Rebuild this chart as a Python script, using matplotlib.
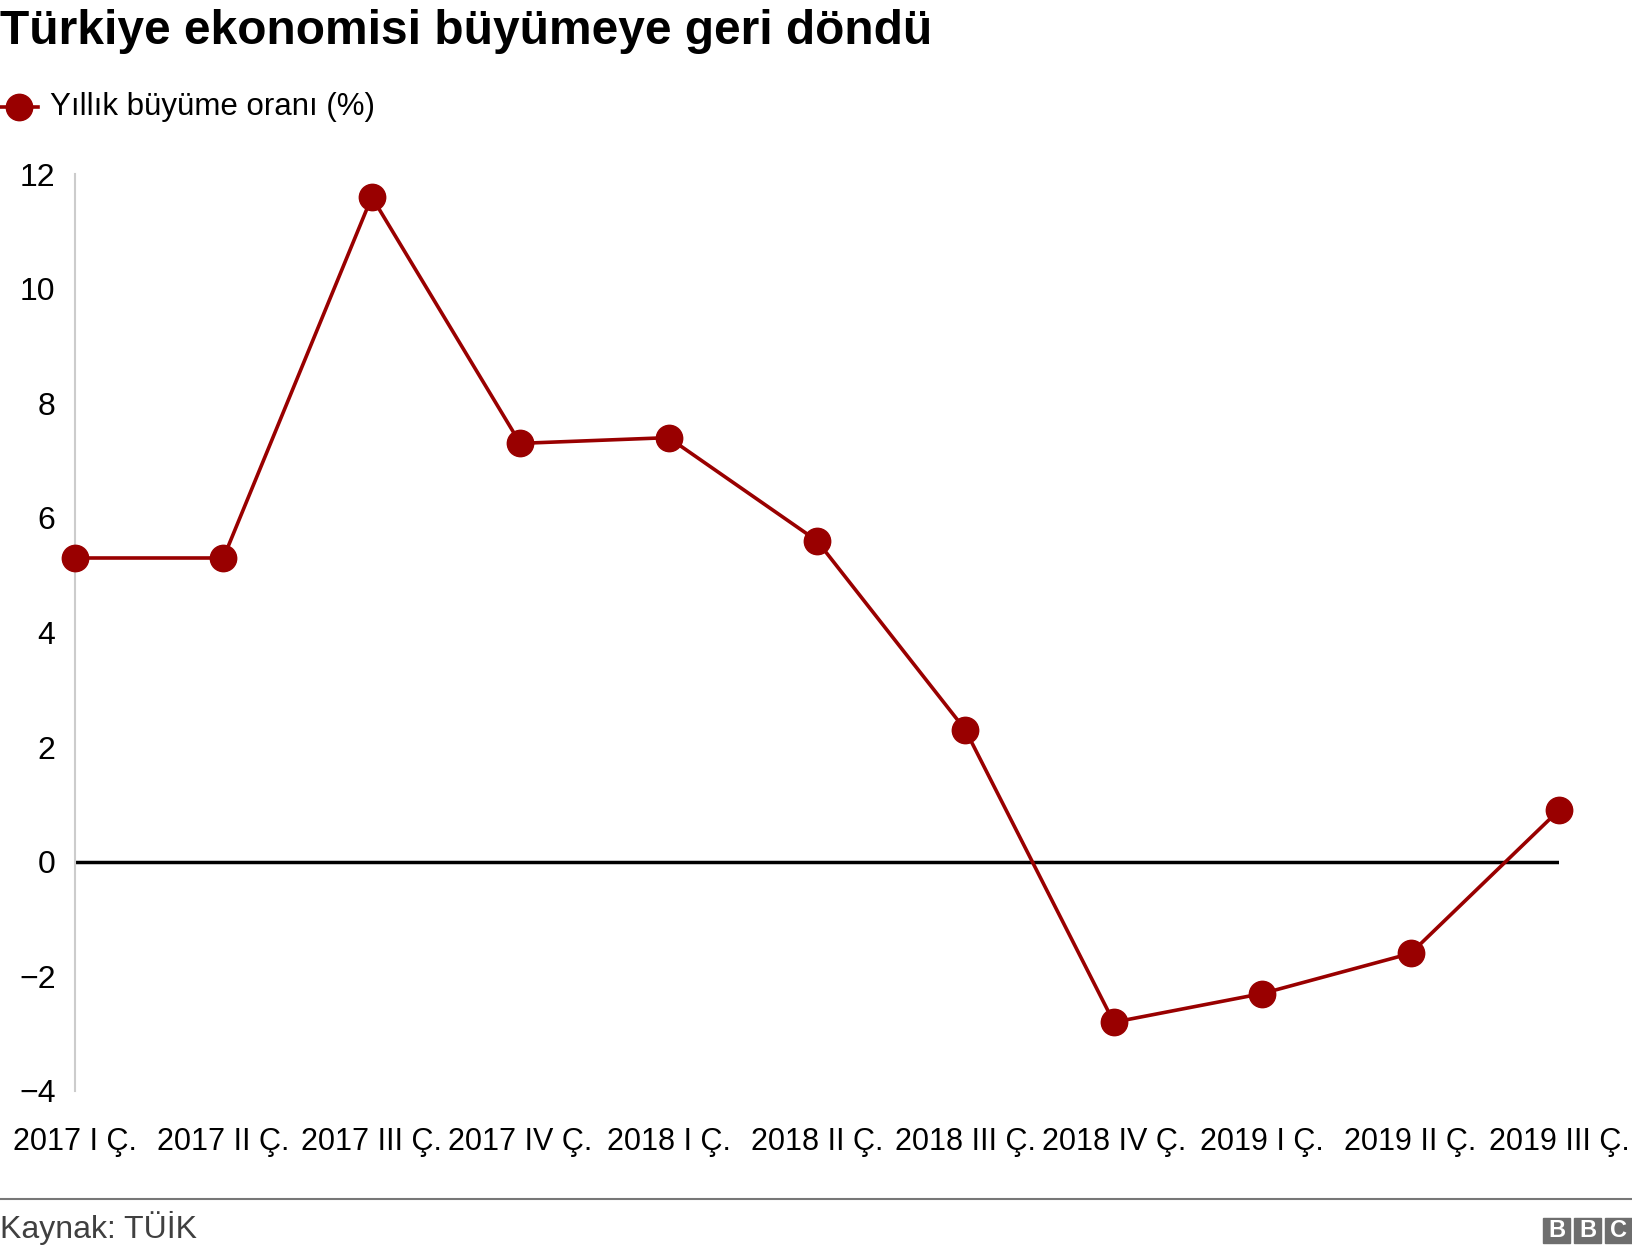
import matplotlib
matplotlib.use("Agg")
import matplotlib.pyplot as plt
from matplotlib.patches import Rectangle
from matplotlib.lines import Line2D

plt.rcParams['font.family'] = ['Liberation Sans', 'DejaVu Sans']

quarters = ['2017 I Ç.', '2017 II Ç.', '2017 III Ç.', '2017 IV Ç.',
            '2018 I Ç.', '2018 II Ç.', '2018 III Ç.', '2018 IV Ç.',
            '2019 I Ç.', '2019 II Ç.', '2019 III Ç.']
growth = [5.3, 5.3, 11.6, 7.3, 7.4, 5.6, 2.3, -2.8, -2.3, -1.6, 0.9]
y_ticks = [-4, -2, 0, 2, 4, 6, 8, 10, 12]

RED = '#990000'


def plot(ax):
    x = list(range(len(growth)))
    ax.axhline(0, color='black', lw=2.5, zorder=2)
    ax.plot(x, growth, color=RED, lw=2.6, marker='o', markersize=19,
            clip_on=False, zorder=3)

    ax.set_xlim(0, len(growth) - 1)
    ax.set_ylim(-4, 12)
    ax.set_yticks(y_ticks)
    ax.set_yticklabels([str(v).replace('-', '\u2212') for v in y_ticks])
    ax.set_xticks(x)
    ax.set_xticklabels(quarters)

    for side in ['top', 'right', 'bottom']:
        ax.spines[side].set_visible(False)
    ax.spines['left'].set_color('#cccccc')
    ax.spines['left'].set_linewidth(1.5)
    ax.tick_params(axis='y', length=0, pad=14, labelsize=23)
    ax.tick_params(axis='x', length=0, pad=26, labelsize=22)


def main():
    fig = plt.figure(figsize=(16.32, 12.54), dpi=100)
    ax = fig.add_axes([75 / 1632, 1 - 1091 / 1254, (1559 - 75) / 1632, (1091 - 174) / 1254])
    plot(ax)

    fig.text(0, 1 - 31 / 1254, 'Türkiye ekonomisi büyümeye geri döndü',
             fontsize=34.5, fontweight='bold', va='center', ha='left')

    # legend
    ly = 1 - 107 / 1254
    fig.add_artist(Line2D([0, 38 / 1632], [ly, ly], color=RED, lw=2.6,
                          transform=fig.transFigure))
    fig.add_artist(Line2D([19 / 1632], [ly], color=RED, marker='o', markersize=19,
                          transform=fig.transFigure))
    fig.text(50 / 1632, ly, 'Yıllık büyüme oranı (%)', fontsize=22.5,
             va='center', ha='left')

    # footer
    fig.add_artist(Line2D([0, 1], [1 - 1199 / 1254] * 2, color='#777777', lw=1.5,
                          transform=fig.transFigure))
    fig.text(0, 1 - 1228 / 1254, 'Kaynak: TÜİK', fontsize=23, color='#404040',
             va='center', ha='left')

    bw, bh, gap = 27 / 1632, 25 / 1254, 4 / 1632
    x0 = 1 - 3 * bw - 2 * gap
    y0 = 1 - 1243 / 1254
    for i, ch in enumerate('BBC'):
        bx = x0 + i * (bw + gap)
        fig.add_artist(Rectangle((bx, y0), bw, bh, color='#6e6e6e',
                                 transform=fig.transFigure))
        fig.text(bx + bw / 2, y0 + bh / 2, ch, color='white', fontsize=17,
                 fontweight='bold', ha='center', va='center')

    fig.savefig('out.png', dpi=100)


if __name__ == "__main__":
    main()
